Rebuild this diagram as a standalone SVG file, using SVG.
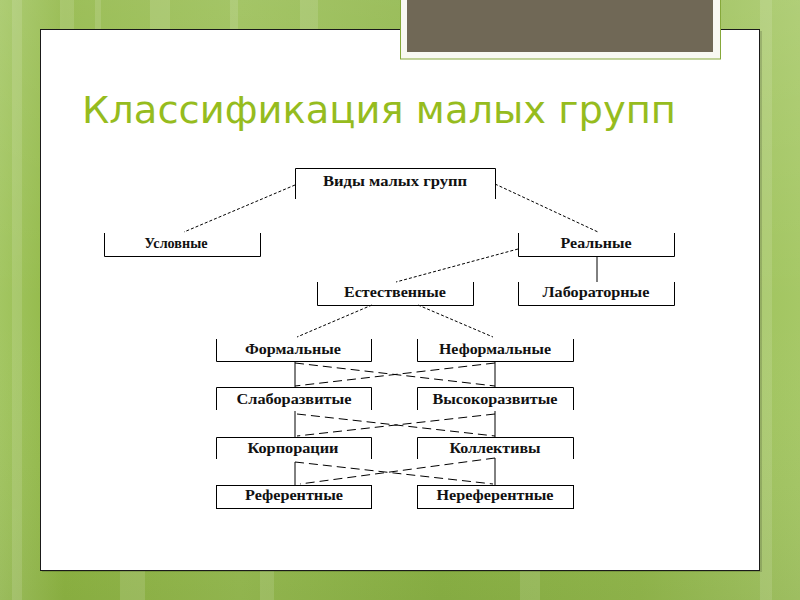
<svg xmlns="http://www.w3.org/2000/svg" width="800" height="600" viewBox="0 0 800 600">
<defs>
<linearGradient id="bg" x1="0" y1="0" x2="1" y2="0">
<stop offset="0" stop-color="#a3c662"/>
<stop offset="0.08" stop-color="#8fb643"/>
<stop offset="0.3" stop-color="#98bd52"/>
<stop offset="0.55" stop-color="#8cb445"/>
<stop offset="0.8" stop-color="#94ba4d"/>
<stop offset="1" stop-color="#a6c866"/>
</linearGradient>
<linearGradient id="vshade" x1="0" y1="0" x2="0" y2="1">
<stop offset="0" stop-color="#ffffff" stop-opacity="0.12"/>
<stop offset="0.5" stop-color="#ffffff" stop-opacity="0"/>
<stop offset="1" stop-color="#000000" stop-opacity="0.05"/>
</linearGradient>
<style>
.box{fill:none;stroke:#000;stroke-width:1}
.solid{stroke:#000;stroke-width:1;fill:none}
.dash{stroke:#000;stroke-width:1;fill:none;stroke-dasharray:3 2}
.dash2{stroke:#000;stroke-width:1;fill:none;stroke-dasharray:9 5}
.lbl{font-family:"Liberation Serif","Times New Roman",serif;font-weight:bold;font-size:14px;fill:#111;text-anchor:middle}
.title{font-family:"DejaVu Sans","Noto Sans",sans-serif;font-size:37px;fill:#96bc1e}
</style>
</defs>
<!-- background -->
<rect x="0" y="0" width="800" height="600" fill="url(#bg)"/>
<rect x="0" y="0" width="800" height="600" fill="url(#vshade)"/>
<g fill="#ffffff" opacity="0.12">
<rect x="12" y="0" width="10" height="600"/>
<rect x="60" y="0" width="14" height="30"/>
<rect x="95" y="0" width="6" height="30"/>
<rect x="150" y="0" width="20" height="30"/>
<rect x="230" y="0" width="8" height="30"/>
<rect x="300" y="0" width="18" height="30"/>
<rect x="760" y="0" width="12" height="600"/>
<rect x="120" y="571" width="25" height="29"/>
<rect x="260" y="571" width="14" height="29"/>
<rect x="520" y="571" width="20" height="29"/>
</g>
<!-- white panel -->
<rect x="42" y="31" width="720" height="541" fill="#000" opacity="0.15"/>
<rect x="40.5" y="29.5" width="719" height="541" fill="#ffffff" stroke="#1a1a1a" stroke-width="1"/>
<!-- top brown frame -->
<rect x="400.5" y="-2" width="320" height="61" fill="#f8f8f2" stroke="#86a83a" stroke-width="1"/>
<rect x="407" y="0" width="306" height="52" fill="#706856"/>
<!-- title -->
<text class="title" x="82" y="123" textLength="594" lengthAdjust="spacingAndGlyphs">Классификация малых групп</text>
<!-- connectors -->
<g id="connectors">
<path class="dash" d="M295 185 L184 232"/>
<path class="dash" d="M495 184 L598 232"/>
<path class="dash" d="M518 249 L396 282"/>
<path class="solid" d="M597 257 L597 282"/>
<path class="dash" d="M372 305 L297 337"/>
<path class="dash" d="M418 305 L493 337"/>
<path class="solid" d="M295 362 V387 M495 362 V387"/>
<path class="dash2" d="M295 363 L495 386 M495 363 L295 386"/>
<path class="solid" d="M295 411 V437 M495 411 V437"/>
<path class="dash2" d="M297 414 L495 436 M495 414 L297 436"/>
<path class="solid" d="M295 462 V485 M495 458 V485"/>
<path class="dash2" d="M295 462 L493 484 M495 458 L300 484"/>
</g>
<!-- nodes -->
<g id="n-vidy">
<path class="box" d="M295.5 199 V168.5 H495.5 V199"/>
<text class="lbl" x="395" y="186" textLength="144" lengthAdjust="spacingAndGlyphs">Виды малых групп</text>
</g>
<g id="n-uslovnye">
<path class="box" d="M104.5 233 V256.5 H260.5 V233"/>
<text class="lbl" x="176" y="248" textLength="63" lengthAdjust="spacingAndGlyphs">Условные</text>
</g>
<g id="n-realnye">
<path class="box" d="M518.5 233 V256.5 H674.5 V233"/>
<text class="lbl" x="596" y="248" textLength="71" lengthAdjust="spacingAndGlyphs">Реальные</text>
</g>
<g id="n-estestv">
<path class="box" d="M317.5 282 V305.5 H473.5 V282"/>
<text class="lbl" x="395" y="297" textLength="102" lengthAdjust="spacingAndGlyphs">Естественные</text>
</g>
<g id="n-labor">
<path class="box" d="M518.5 282 V305.5 H674.5 V282"/>
<text class="lbl" x="596" y="297" textLength="107" lengthAdjust="spacingAndGlyphs">Лабораторные</text>
</g>
<g id="n-formal">
<path class="box" d="M216.5 339 V361.5 H371.5 V339"/>
<text class="lbl" x="293" y="354" textLength="96" lengthAdjust="spacingAndGlyphs">Формальные</text>
</g>
<g id="n-neformal">
<path class="box" d="M417.5 339 V361.5 H573.5 V339"/>
<text class="lbl" x="495" y="354" textLength="112" lengthAdjust="spacingAndGlyphs">Неформальные</text>
</g>
<g id="n-slabo">
<path class="box" d="M216.5 410 V387.5 H371.5 V410"/>
<text class="lbl" x="294" y="404" textLength="115" lengthAdjust="spacingAndGlyphs">Слаборазвитые</text>
</g>
<g id="n-vysoko">
<path class="box" d="M417.5 410 V387.5 H573.5 V410"/>
<text class="lbl" x="495" y="404" textLength="125" lengthAdjust="spacingAndGlyphs">Высокоразвитые</text>
</g>
<g id="n-korp">
<path class="box" d="M216.5 459 V437.5 H371.5 V459"/>
<text class="lbl" x="293" y="453" textLength="91" lengthAdjust="spacingAndGlyphs">Корпорации</text>
</g>
<g id="n-koll">
<path class="box" d="M417.5 459 V437.5 H573.5 V459"/>
<text class="lbl" x="495" y="453" textLength="91" lengthAdjust="spacingAndGlyphs">Коллективы</text>
</g>
<g id="n-ref">
<rect class="box" x="216.5" y="485.5" width="155" height="23"/>
<text class="lbl" x="294" y="500" textLength="98" lengthAdjust="spacingAndGlyphs">Референтные</text>
</g>
<g id="n-neref">
<rect class="box" x="417.5" y="485.5" width="156" height="23"/>
<text class="lbl" x="495" y="500" textLength="117" lengthAdjust="spacingAndGlyphs">Нереферентные</text>
</g>
</svg>
